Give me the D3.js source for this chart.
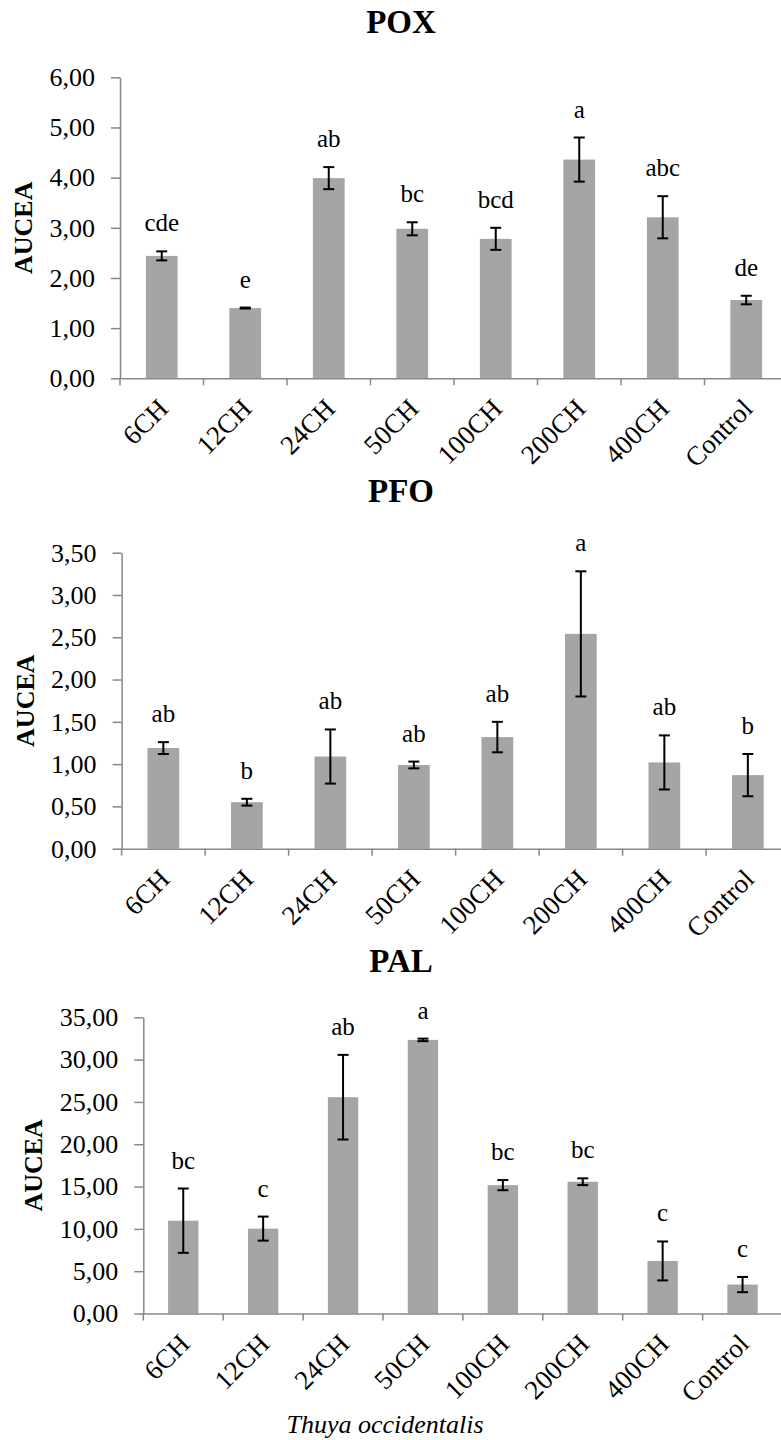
<!DOCTYPE html>
<html>
<head>
<meta charset="utf-8">
<script src="https://cdn.jsdelivr.net/npm/d3@7"></script>
<style>
  body { margin: 0; background: #fff; }
  svg, svg text { font-family: "Liberation Serif", "Times New Roman", serif; }
</style>
</head>
<body>
<div id="chart"></div>
<script>
// categories on the x axis (same for all three panels)
var categories = ["6CH", "12CH", "24CH", "50CH", "100CH", "200CH", "400CH", "Control"];

// POX
var poxValues = [2.44, 1.40, 3.99, 2.98, 2.78, 4.36, 3.21, 1.56];
var poxErrors = [0.09, 0.01, 0.22, 0.13, 0.22, 0.44, 0.42, 0.085];
var poxLetters = ["cde", "e", "ab", "bc", "bcd", "a", "abc", "de"];
var poxTicks = [0, 1, 2, 3, 4, 5, 6];

// PFO
var pfoValues = [1.19, 0.55, 1.09, 0.99, 1.32, 2.54, 1.02, 0.87];
var pfoErrors = [0.07, 0.04, 0.32, 0.04, 0.18, 0.74, 0.32, 0.25];
var pfoLetters = ["ab", "b", "ab", "ab", "ab", "a", "ab", "b"];
var pfoTicks = [0, 0.5, 1, 1.5, 2, 2.5, 3, 3.5];

// PAL
var palValues = [10.97, 10.03, 25.56, 32.33, 15.17, 15.57, 6.21, 3.42];
var palErrors = [3.8, 1.42, 5.0, 0.15, 0.6, 0.4, 2.3, 0.9];
var palLetters = ["bc", "c", "ab", "a", "bc", "bc", "c", "c"];
var palTicks = [0, 5, 10, 15, 20, 25, 30, 35];

var width = 781;
var height = 1440;
var serif = '"Liberation Serif", "Times New Roman", serif';

var svg = d3.select("#chart")
    .append("svg")
    .attr("width", width)
    .attr("height", height)
    .style("font-family", serif);

var fmt = function(d) { return d3.format(".2f")(d).replace(".", ","); };

// layout of each panel (pixels)
var panels = [
    { title: "POX", values: poxValues, errors: poxErrors, letters: poxLetters, ticks: poxTicks,
      titleY: 33, top: 77.3, bottom: 378.3, left: 120, step: 83.5, labelX: 32 },
    { title: "PFO", values: pfoValues, errors: pfoErrors, letters: pfoLetters, ticks: pfoTicks,
      titleY: 502, top: 552.7, bottom: 848.7, left: 121.6, step: 83.5, labelX: 34 },
    { title: "PAL", values: palValues, errors: palErrors, letters: palLetters, ticks: palTicks,
      titleY: 972, top: 1017.3, bottom: 1313.5, left: 143.3, step: 79.9, labelX: 42 }
];

panels.forEach(function(p) {
    var g = svg.append("g");

    var x = d3.scaleBand()
        .domain(categories)
        .range([p.left, p.left + categories.length * p.step])
        .paddingInner(0.62)
        .paddingOuter(0.31);

    var y = d3.scaleLinear()
        .domain([0, d3.max(p.ticks)])
        .range([p.bottom, p.top]);

    // title
    g.append("text")
        .attr("x", 401)
        .attr("y", p.titleY)
        .attr("text-anchor", "middle")
        .attr("font-weight", "bold")
        .attr("font-size", 33)
        .style("font-family", serif)
        .text(p.title);

    // y axis label
    g.append("text")
        .attr("transform", "translate(" + p.labelX + "," + ((p.top + p.bottom) / 2) + ") rotate(-90)")
        .attr("text-anchor", "middle")
        .attr("font-weight", "bold")
        .attr("font-size", 26)
        .style("font-family", serif)
        .text("AUCEA");

    // bars
    var data = categories.map(function(c, i) {
        return { cat: c, v: p.values[i], e: p.errors[i], l: p.letters[i] };
    });

    g.selectAll("rect.bar").data(data).enter()
        .append("rect")
        .attr("class", "bar")
        .attr("x", function(d) { return x(d.cat); })
        .attr("y", function(d) { return y(d.v); })
        .attr("width", x.bandwidth())
        .attr("height", function(d) { return y(0) - y(d.v); })
        .attr("fill", "#a5a5a5");

    // y axis
    var gy = g.append("g")
        .attr("transform", "translate(" + p.left + ",0)")
        .call(d3.axisLeft(y).tickValues(p.ticks).tickFormat(fmt)
            .tickSize(9).tickSizeOuter(0).tickPadding(16));
    gy.attr("font-family", null).attr("font-size", null);
    gy.selectAll("path, line").attr("stroke", "#888").attr("stroke-width", 1.5);
    gy.selectAll("text").attr("font-size", 26).attr("fill", "#000").style("font-family", serif);

    // x axis line + rotated labels
    var gx = g.append("g")
        .attr("transform", "translate(0," + p.bottom + ")")
        .call(d3.axisBottom(x).tickSize(0).tickSizeOuter(0).tickPadding(0));
    gx.attr("font-family", null).attr("font-size", null);
    gx.select(".domain").attr("stroke", "#888").attr("stroke-width", 1.5);
    gx.selectAll(".tick text")
        .attr("font-size", 27)
        .attr("fill", "#000")
        .style("font-family", serif)
        .attr("text-anchor", "end")
        .attr("dy", null)
        .attr("y", null)
        .attr("transform", "translate(8,32) rotate(-45)");

    // category boundary ticks
    var bounds = d3.range(categories.length + 1).map(function(i) { return x.range()[0] + i * x.step(); });
    g.selectAll("line.ctick").data(bounds).enter()
        .append("line")
        .attr("class", "ctick")
        .attr("x1", function(d) { return d; })
        .attr("x2", function(d) { return d; })
        .attr("y1", p.bottom)
        .attr("y2", p.bottom + 7)
        .attr("stroke", "#888")
        .attr("stroke-width", 1.5);

    // error bars
    var cx = function(d) { return x(d.cat) + x.bandwidth() / 2; };
    var eb = g.selectAll("g.err").data(data).enter().append("g").attr("class", "err");
    eb.append("line")
        .attr("x1", cx).attr("x2", cx)
        .attr("y1", function(d) { return y(d.v + d.e); })
        .attr("y2", function(d) { return y(d.v - d.e); });
    eb.append("line")
        .attr("x1", function(d) { return cx(d) - 5.5; })
        .attr("x2", function(d) { return cx(d) + 5.5; })
        .attr("y1", function(d) { return y(d.v + d.e); })
        .attr("y2", function(d) { return y(d.v + d.e); });
    eb.append("line")
        .attr("x1", function(d) { return cx(d) - 5.5; })
        .attr("x2", function(d) { return cx(d) + 5.5; })
        .attr("y1", function(d) { return y(d.v - d.e); })
        .attr("y2", function(d) { return y(d.v - d.e); });
    eb.selectAll("line").attr("stroke", "#000").attr("stroke-width", 2);

    // significance letters
    g.selectAll("text.letter").data(data).enter()
        .append("text")
        .attr("class", "letter")
        .attr("x", cx)
        .attr("y", function(d) { return y(d.v + d.e) - 20; })
        .attr("text-anchor", "middle")
        .attr("font-size", 25)
        .style("font-family", serif)
        .text(function(d) { return d.l; });
});

svg.append("text")
    .attr("x", 385)
    .attr("y", 1433)
    .attr("text-anchor", "middle")
    .attr("font-style", "italic")
    .attr("font-size", 26)
    .style("font-family", serif)
    .text("Thuya occidentalis");
</script>
</body>
</html>
